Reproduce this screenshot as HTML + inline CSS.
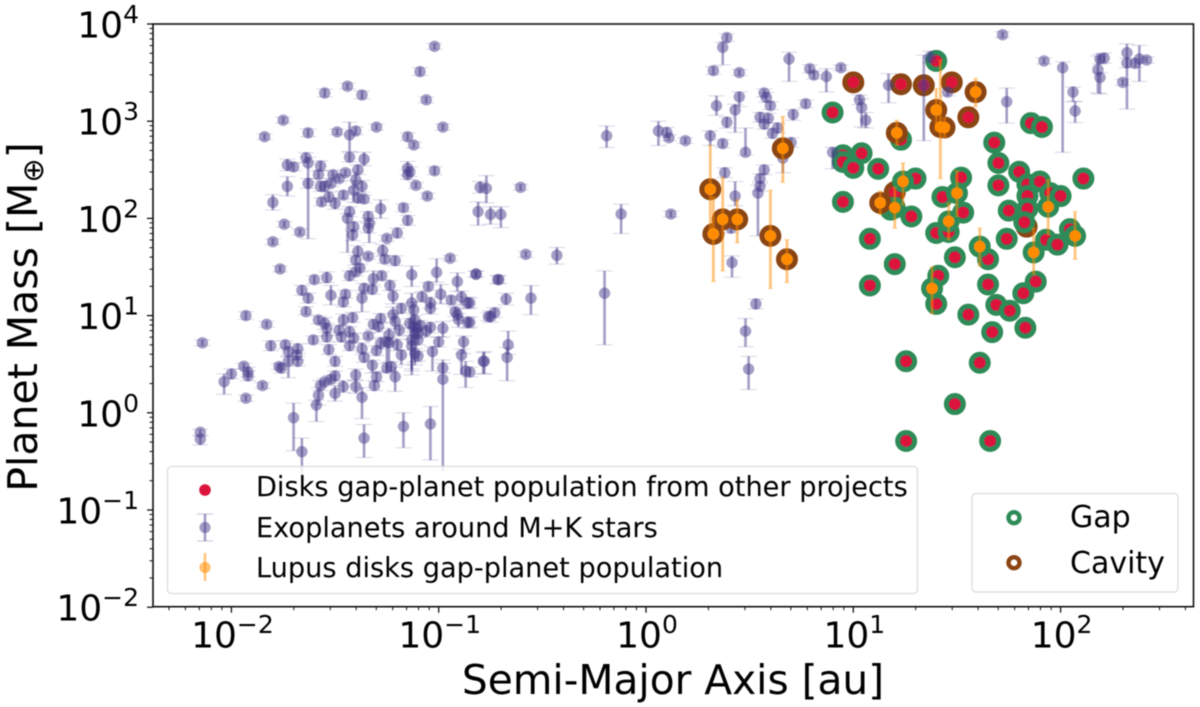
<!DOCTYPE html>
<html lang="en">
<head>
<meta charset="utf-8">
<title>Planet mass versus semi-major axis</title>
<style>
html,body{margin:0;padding:0;background:#fff;width:1200px;height:707px;overflow:hidden}
svg{display:block;filter:blur(0.55px)}
text{font-family:"DejaVu Sans","Liberation Sans",sans-serif;fill:#000}
</style>
</head>
<body>
<svg id="chart" xmlns="http://www.w3.org/2000/svg" width="1200" height="707" viewBox="0 0 1200 707">
  <defs><clipPath id="plot-clip"><rect x="153" y="24" width="1040.5" height="582.7"/></clipPath></defs>
  <rect x="153" y="24" width="1040.5" height="582.7" fill="#fff"/>
  <g id="marks" clip-path="url(#plot-clip)"></g>
  <rect x="153" y="24" width="1040.5" height="582.7" fill="none" stroke="#111" stroke-width="1.6"/>
  <g id="axes"></g>

  <text x="673" y="694" font-size="40.7" text-anchor="middle">Semi-Major Axis [au]</text>
  <text transform="translate(37,317) rotate(-90)" font-size="41" text-anchor="middle">Planet Mass [M<tspan font-size="29" dy="6">⊕</tspan><tspan dy="-6">]</tspan></text>

  <g>
    <rect x="167.5" y="466.5" width="750" height="127" rx="4" fill="#fff" fill-opacity="0.8" stroke="#dcdcdc" stroke-width="1.3"/>
    <circle cx="205" cy="490" r="5.8" fill="#DC143C"/>
    <text x="256" y="496" font-size="27.2">Disks gap-planet population from other projects</text>
    <g stroke="#483D8B" stroke-opacity="0.5">
      <line x1="205" x2="205" y1="514" y2="541" stroke-width="2.6"/>
      <line x1="197" x2="213" y1="514" y2="514" stroke-width="1" stroke-opacity="0.3"/>
      <line x1="197" x2="213" y1="541" y2="541" stroke-width="1" stroke-opacity="0.3"/>
      <circle cx="205" cy="527.5" r="5.6" fill="#483D8B" fill-opacity="0.5" stroke="none"/>
    </g>
    <text x="256" y="537" font-size="27.2">Exoplanets around M+K stars</text>
    <g stroke="#FF8C00" stroke-opacity="0.5">
      <line x1="205" x2="205" y1="553" y2="581" stroke-width="2.6"/>
      <circle cx="205" cy="567.5" r="5.6" fill="#FF8C00" fill-opacity="0.55" stroke="none"/>
    </g>
    <text x="256" y="577" font-size="27.2">Lupus disks gap-planet population</text>
  </g>

  <g>
    <rect x="972" y="493.5" width="206" height="98.5" rx="4" fill="#fff" fill-opacity="0.8" stroke="#dcdcdc" stroke-width="1.3"/>
    <circle cx="1014" cy="517.7" r="5.5" fill="#fff" stroke="#2E8B57" stroke-width="4.4"/>
    <text x="1070" y="527" font-size="30">Gap</text>
    <circle cx="1014" cy="562.7" r="5.5" fill="#fff" stroke="#8B4513" stroke-width="4.4"/>
    <text x="1070" y="573" font-size="30">Cavity</text>
  </g>
</svg>

<script>
// Tick exponents (base-10)
const xTickExponents = [-2, -1, 0, 1, 2];
const yTickExponents = [-2, -1, 0, 1, 2, 3, 4];

// Disks gap-planet population from other projects: log10(a/au), log10(M/Mearth), structure
const diskLogA = [
  1.00,1.23,1.34,1.475,1.555,1.20,1.836,
  1.40,1.23,1.12,0.90,0.95,0.95,1.04,1.00,0.95,1.08,
  1.08,1.18,1.28,1.30,1.43,1.52,1.53,1.40,1.46,1.65,
  1.49,1.20,1.74,1.68,1.857,1.91,1.70,1.70,1.80,1.84,
  1.90,1.84,1.95,2.00,1.75,1.84,1.825,2.11,2.045,1.93,
  1.985,1.41,1.65,1.88,1.82,1.40,1.555,1.69,1.755,1.67,
  1.83,1.255,1.61,1.49,1.255,1.66
];
const diskLogM = [
  3.40,3.38,3.37,3.40,3.04,2.27,1.915,
  3.62,2.81,2.51,3.09,2.65,2.58,2.67,2.52,2.17,1.79,
  1.31,2.09,2.02,2.41,2.22,2.42,2.06,1.85,1.86,1.58,
  1.60,1.53,1.79,2.78,2.98,2.94,2.57,2.34,2.48,2.35,
  2.38,2.23,2.26,2.23,2.08,2.10,1.96,2.41,1.89,1.78,
  1.73,1.41,1.32,1.35,1.23,1.12,1.01,1.11,1.05,0.83,
  0.875,0.53,0.515,0.09,-0.29,-0.29
];
const diskStructure = [
  "cavity","cavity","cavity","cavity","cavity","cavity","cavity",
  "gap","gap","gap","gap","gap","gap","gap","gap","gap","gap",
  "gap","gap","gap","gap","gap","gap","gap","gap","gap","gap",
  "gap","gap","gap","gap","gap","gap","gap","gap","gap","gap",
  "gap","gap","gap","gap","gap","gap","gap","gap","gap","gap",
  "gap","gap","gap","gap","gap","gap","gap","gap","gap","gap",
  "gap","gap","gap","gap","gap","gap"
];

// Lupus disks gap-planet population
const lupusLogA = [0.66,0.31,0.37,0.44,0.325,0.60,0.68,1.13,1.21,1.40,1.42,1.44,1.59,
                   1.24,1.20,1.50,1.46,1.61,1.87,1.94,2.07,1.38];
const lupusLogM = [2.72,2.30,1.99,1.99,1.84,1.82,1.58,2.16,2.88,3.115,2.94,2.935,3.30,
                   2.38,2.11,2.26,1.97,1.71,1.65,2.12,1.82,1.28];
const lupusErrDown = [0.35,0.45,0.53,0.24,0.49,0.54,0.24,0.12,0.13,0.21,0.53,0.10,0.15,
                      0.24,0.21,0.24,0.19,0.20,0.23,0.29,0.24,0.26];
const lupusErrUp = [0.33,0.45,0.43,0.20,0.38,0.47,0.20,0.12,0.13,0.22,0.69,0.10,0.14,
                    0.19,0.21,0.23,0.19,0.19,0.25,0.28,0.25,0.22];
const lupusStructure = ["cavity","cavity","cavity","cavity","cavity","cavity","cavity","cavity","cavity","cavity","cavity","cavity","cavity",
                        "gap","gap","gap","gap","gap","gap","gap","gap","gap"];

// Exoplanets around M+K stars
const exoLogA = [
 -1.02,-1.09,-1.06,-0.98,-1.44,-1.55,-1.37,-1.75,-1.84,-1.63,
 -1.49,-1.40,-1.43,-1.30,-1.15,-1.12,-1.64,-1.63,-1.73,-1.70,
 -1.57,-1.43,-1.36,-1.58,-1.51,-1.45,-1.39,-1.48,-1.15,-1.15,
 -1.14,-1.02,-1.63,-1.73,-1.57,-1.55,-1.52,-1.11,-1.055,-1.46,
 -1.40,-1.37,-1.41,-1.39,-1.36,-1.80,-1.565,-1.50,-1.53,-1.28,
 -1.17,-1.43,-1.15,-1.44,-1.745,-1.67,-1.80,-1.41,-1.415,-1.34,
 -1.335,-1.34,-1.20,-1.25,-1.39,-1.27,-0.945,-0.80,-0.77,-0.81,
 -0.75,-1.765,-1.34,-1.26,-1.21,-1.40,-1.38,-1.40,-1.43,-1.275,
 -1.315,-1.54,-1.60,-1.13,-1.01,-0.82,-0.91,-1.235,-1.05,-1.66,
 -1.36,-1.32,-1.45,-1.52,-1.63,-1.22,-1.08,-0.99,-0.94,-0.89,
 -0.86,-1.46,-1.37,-1.13,-1.04,-1.04,-1.18,-1.64,-1.12,-1.22,
 -0.92,-0.91,-1.93,-0.76,-1.415,-1.46,-1.58,-1.55,-1.115,-1.28,
 -1.21,-0.905,-0.86,-1.83,-1.315,-1.29,-1.54,-1.48,-1.43,-0.98,
 -1.04,-1.105,-1.115,-1.19,-1.24,-1.06,-1.54,-1.47,-1.41,-1.34,
 -2.14,-1.605,-1.00,-0.88,-1.28,-1.25,-1.20,-1.81,-1.74,-1.68,
 -1.43,-1.37,-1.53,-1.30,-1.13,-1.115,-1.03,-1.18,-1.10,-0.89,
 -1.725,-1.685,-1.68,-1.725,-1.36,-1.50,-1.32,-0.78,-1.94,-1.92,
 -1.92,-2.00,-2.035,-1.85,-1.77,-1.76,-1.25,-1.23,-0.98,-0.98,
 -0.87,-1.40,-1.50,-1.21,-1.30,-1.52,-1.55,-1.57,-1.31,-1.46,
 -1.40,-1.50,-1.58,-1.37,-1.59,-1.70,-1.36,-1.17,-1.04,-1.66,
 -1.93,-2.15,-2.15,-1.12,-1.10,-1.13,-1.10,-1.14,-1.24,-1.09,
 -0.605,-0.70,-0.58,-0.43,-0.82,-0.715,-0.71,-0.675,-0.555,-0.73,
 -0.75,-0.85,-0.85,-0.665,-0.67,-0.785,-0.85,-0.19,-0.12,0.12,
 -0.20,0.39,0.37,0.325,0.45,0.69,0.79,0.81,0.87,0.94,
 1.17,0.34,0.45,0.43,0.39,0.57,0.58,0.60,0.77,0.71,
 0.55,0.59,0.57,0.635,0.61,1.03,1.04,1.06,0.06,0.10,
 0.11,0.19,0.31,0.37,0.48,0.70,0.66,0.90,0.38,0.57,
 0.55,0.55,0.54,0.43,0.41,0.415,0.53,0.48,0.495,1.72,
 1.37,1.34,1.455,1.74,1.92,2.01,2.06,2.07,2.18,2.19,
 2.21,2.19,2.30,2.32,2.32,2.36,2.38,2.415
];
const exoLogM = [
 3.77,3.51,3.22,2.94,3.36,3.29,3.27,3.01,2.84,2.88,
 2.89,2.90,2.86,2.94,2.84,2.755,2.625,2.57,2.55,2.53,
 2.54,2.63,2.61,2.45,2.45,2.47,2.50,2.41,2.515,2.45,
 2.48,2.49,2.36,2.33,2.33,2.33,2.36,2.34,2.23,2.24,
 2.395,2.33,2.29,2.21,2.20,2.165,2.17,2.155,2.22,2.10,
 2.11,2.07,1.98,2.00,1.94,1.86,1.76,1.915,1.83,2.02,
 1.95,1.90,1.85,1.795,1.66,1.67,1.59,2.32,2.31,2.07,
 2.04,1.48,1.61,1.58,1.565,1.57,1.49,1.45,1.41,1.41,
 1.38,1.39,1.37,1.42,1.445,1.43,1.35,1.31,1.30,1.26,
 1.28,1.27,1.22,1.21,1.18,1.20,1.195,1.22,1.16,1.19,
 1.13,1.14,1.18,1.13,1.13,1.075,1.075,1.04,1.06,1.01,
 1.04,1.01,1.00,0.99,0.98,0.955,0.955,0.92,0.955,0.97,
 0.94,0.96,0.93,0.91,0.91,0.89,0.87,0.85,0.835,0.87,
 0.88,0.87,0.82,0.85,0.80,0.84,0.78,0.78,0.77,0.79,
 0.72,0.75,0.73,0.73,0.715,0.73,0.70,0.69,0.70,0.66,
 0.69,0.66,0.65,0.64,0.69,0.61,0.63,0.595,0.585,0.595,
 0.63,0.595,0.53,0.53,0.57,0.53,0.49,0.53,0.48,0.42,
 0.38,0.40,0.32,0.28,0.475,0.46,0.46,0.475,0.46,0.345,
 0.43,0.39,0.38,0.37,0.37,0.345,0.32,0.28,0.28,0.27,
 0.27,0.20,0.18,0.16,0.08,-0.05,-0.26,-0.14,-0.115,-0.40,
 0.15,-0.20,-0.27,0.88,0.82,0.75,0.75,0.92,0.72,0.90,
 2.32,2.04,1.63,1.62,1.425,1.37,1.37,1.17,1.18,1.03,
 0.99,1.13,0.93,0.70,0.57,0.53,0.42,2.85,2.045,2.045,
 1.23,3.86,3.76,3.52,3.50,3.64,3.54,3.475,3.46,3.55,
 3.37,3.16,3.25,3.115,2.99,3.29,3.245,3.16,3.18,3.07,
 3.04,3.03,2.97,2.93,2.875,3.22,3.14,3.01,2.90,2.885,
 2.83,2.80,2.85,2.77,2.68,2.78,2.62,2.68,2.47,2.50,
 2.41,2.33,2.26,2.23,1.90,1.545,1.12,0.84,0.45,3.89,
 3.66,3.37,3.30,3.20,3.62,3.55,3.30,3.105,3.53,3.64,
 3.65,3.45,3.40,3.705,3.60,3.595,3.64,3.63
];
const exoErrDown = [
 .03,.04,.03,.03,.03,.04,.04,.03,.03,.04,
 .03,.04,.17,.03,.04,.03,.05,.78,.06,.04,
 .05,.05,.07,.04,.04,.03,.05,.03,.07,.05,
 .05,.04,.05,.10,.05,.05,.03,.03,.03,.04,
 .08,.06,.12,.05,.04,.08,.04,.06,.05,.10,
 .04,.05,.05,.35,.03,.03,.03,.05,.06,.05,
 .20,.05,.05,.03,.06,.06,.03,.06,.15,.14,
 .10,.03,.03,.04,.05,.05,.04,.04,.05,.04,
 .08,.05,.04,.12,.10,.03,.10,.05,.04,.05,
 .05,.05,.04,.10,.05,.08,.05,.10,.04,.08,
 .06,.05,.14,.70,.06,.06,.05,.03,.30,.08,
 .05,.06,.04,.04,.05,.06,.04,.06,.10,.05,
 .08,.08,.06,.03,.05,.06,.08,.05,.05,.09,
 .06,.07,.30,.06,.07,.06,.05,.05,.05,.03,
 .03,.04,.05,.12,.06,.30,.06,.05,.04,.05,
 .05,.06,.05,.05,.30,.12,.20,.10,.05,.20,
 .05,.05,.05,.17,.05,.05,.08,.13,.03,.05,
 .05,.05,.13,.03,.03,.05,.05,.05,.05,.94,
 .17,.06,.05,.15,.05,.04,.03,.05,.05,.06,
 .07,.08,.10,.22,.17,.34,.20,.22,.37,.30,
 .03,.03,.06,.05,.05,.30,.05,.05,.20,.05,
 .03,.135,.03,.09,.03,.04,.04,.06,.17,.05,
 .06,.05,.05,.10,.24,.13,.05,.12,.20,.03,
 .53,.04,.18,.04,.03,.23,.04,.04,.16,.03,
 .18,.10,.10,.23,.06,.04,.05,.04,.04,.06,
 .05,.05,.05,.05,.05,.05,.20,.08,.15,.05,
 .03,.03,.10,.04,.03,.05,.15,.17,.05,.05,
 .05,.05,.44,.10,.05,.15,.05,.16,.21,.03,
 .06,.57,.04,.22,.03,.87,.10,.12,.24,.05,
 .05,.17,.03,.58,.05,.04,.23,.03
];
const exoErrUp = [
 .03,.04,.03,.03,.03,.04,.04,.03,.03,.04,
 .03,.04,.13,.03,.04,.03,.05,.06,.06,.04,
 .05,.05,.07,.04,.04,.03,.05,.03,.07,.05,
 .05,.04,.05,.10,.05,.05,.03,.03,.03,.04,
 .08,.06,.10,.05,.04,.08,.04,.06,.05,.09,
 .04,.05,.05,.05,.03,.03,.03,.05,.06,.05,
 .05,.05,.05,.03,.06,.06,.03,.06,.13,.10,
 .08,.03,.03,.04,.05,.05,.04,.04,.05,.04,
 .08,.06,.04,.09,.14,.03,.09,.05,.04,.05,
 .05,.05,.04,.10,.05,.06,.05,.10,.04,.06,
 .06,.05,.08,.10,.06,.06,.05,.05,.08,.08,
 .05,.06,.04,.04,.05,.06,.04,.06,.05,.05,
 .08,.06,.06,.03,.05,.05,.05,.05,.05,.07,
 .05,.06,.06,.06,.07,.06,.05,.05,.05,.03,
 .03,.04,.05,.06,.06,.05,.06,.05,.04,.05,
 .05,.06,.05,.05,.06,.05,.05,.05,.05,.06,
 .05,.05,.05,.05,.05,.05,.05,.10,.03,.05,
 .05,.05,.08,.03,.03,.05,.05,.05,.05,.20,
 .10,.06,.05,.10,.05,.04,.03,.05,.05,.06,
 .07,.08,.08,.10,.05,.15,.14,.14,.18,.14,
 .03,.03,.03,.05,.05,.05,.05,.05,.05,.05,
 .03,.08,.03,.08,.03,.04,.04,.06,.13,.05,
 .06,.05,.05,.14,.10,.09,.05,.10,.10,.03,
 .23,.04,.05,.04,.03,.07,.04,.04,.08,.03,
 .12,.10,.05,.06,.05,.04,.05,.04,.04,.05,
 .05,.05,.05,.05,.05,.05,.09,.08,.10,.05,
 .03,.03,.05,.04,.25,.05,.05,.05,.05,.05,
 .05,.05,.08,.15,.05,.07,.05,.13,.13,.03,
 .06,.31,.04,.14,.03,.06,.05,.10,.14,.05,
 .05,.05,.03,.09,.05,.04,.14,.03
];

// Axis functions: log10 value to pixel coordinate
function xAxis(logValue) { return 646 + 207.3 * logValue; }
function yAxis(logValue) { return 412.8 - 97.2 * logValue; }

const SVG_NS = 'http://www.w3.org/2000/svg';
const marks = document.getElementById('marks');
const axes = document.getElementById('axes');

function make(tag, parent, attrs) {
  const el = document.createElementNS(SVG_NS, tag);
  for (const k in attrs) el.setAttribute(k, attrs[k]);
  parent.appendChild(el);
  return el;
}

const RING_COLORS = { gap: '#2E8B57', cavity: '#8B4513' };

// ---- axes ----
const xRange = [-2.378, 2.64];
const yRange = [-2, 4];
for (let d = -3; d <= 2; d++) {
  for (let m = 1; m <= 9; m++) {
    const v = d + Math.log10(m);
    if (v < xRange[0] || v > xRange[1]) continue;
    const major = m === 1;
    const tick = make('line', axes, { x1: xAxis(v), x2: xAxis(v), y1: 606.7, y2: 606.7 + (major ? 6 : 3.5), stroke: '#111', 'stroke-width': major ? 1.3 : 1 });
    
    
  }
}
for (let d = -2; d <= 3; d++) {
  for (let m = 1; m <= 10; m++) {
    const v = d + Math.log10(m);
    if (v < yRange[0] || v > yRange[1] || (m === 10 && d !== 3)) continue;
    const major = m === 1 || m === 10;
    const tick = make('line', axes, { x1: 153, x2: 153 - (major ? 6 : 3.5), y1: yAxis(v), y2: yAxis(v), stroke: '#111', 'stroke-width': major ? 1.3 : 1 });
    
    
  }
}
function tickLabel(parent, x, y, anchor, exponent) {
  const t = make('text', parent, { x: x, y: y, 'text-anchor': anchor, 'font-size': 36 });
  const base = make('tspan', t, {});
  base.textContent = '10';
  const sup = make('tspan', t, { 'font-size': 25, dy: -14.5 });
  sup.textContent = String(exponent).replace('-', '\u2212');
  return t;
}
xTickExponents.forEach(function (e) {
  const label = tickLabel(axes, xAxis(e) + 1, 647.5, 'middle', e);
  
  
});
yTickExponents.forEach(function (e) {
  const label = tickLabel(axes, 139, yAxis(e) + 13.5, 'end', e);
  
  
});

// ---- disks from other projects (cavities beneath gaps) ----
['cavity', 'gap'].forEach(function (kind) {
  diskLogA.forEach(function (a, i) {
    if (diskStructure[i] !== kind) return;
    const g = make('g', marks, {});
    
    
    make('circle', g, { cx: xAxis(a), cy: yAxis(diskLogM[i]), r: 8.4, fill: 'none', stroke: RING_COLORS[kind], 'stroke-width': 5.2 });
    make('circle', g, { cx: xAxis(a), cy: yAxis(diskLogM[i]), r: 5.9, fill: '#DC143C' });
  });
});

// ---- exoplanets ----
exoLogA.forEach(function (a, i) {
  const g = make('g', marks, {});
  
  
  const x = xAxis(a);
  const y0 = yAxis(exoLogM[i]);
  const yLow = yAxis(exoLogM[i] - exoErrDown[i]);
  const yHigh = yAxis(exoLogM[i] + exoErrUp[i]);
  make('line', g, { x1: x, x2: x, y1: yLow, y2: yHigh, stroke: '#483D8B', 'stroke-opacity': 0.5, 'stroke-width': 2.6 });
  make('line', g, { x1: x - 8, x2: x + 8, y1: yLow, y2: yLow, stroke: '#483D8B', 'stroke-opacity': 0.22, 'stroke-width': 1 });
  make('line', g, { x1: x - 8, x2: x + 8, y1: yHigh, y2: yHigh, stroke: '#483D8B', 'stroke-opacity': 0.22, 'stroke-width': 1 });
  make('circle', g, { cx: x, cy: y0, r: 5.7, fill: '#483D8B', 'fill-opacity': 0.5 });
});

// ---- Lupus disks ----
['gap', 'cavity'].forEach(function (kind) {
  lupusLogA.forEach(function (a, i) {
    if (lupusStructure[i] !== kind) return;
    const ring = make('circle', marks, { cx: xAxis(a), cy: yAxis(lupusLogM[i]), r: 8.4, fill: 'none', stroke: RING_COLORS[kind], 'stroke-width': 5.2 });
    
    
  });
});
lupusLogA.forEach(function (a, i) {
  const g = make('g', marks, {});
  
  
  const x = xAxis(a);
  const yLow = yAxis(lupusLogM[i] - lupusErrDown[i]);
  const yHigh = yAxis(lupusLogM[i] + lupusErrUp[i]);
  make('line', g, { x1: x, x2: x, y1: yLow, y2: yHigh, stroke: '#FF8C00', 'stroke-opacity': 0.5, 'stroke-width': 2.8 });
  make('line', g, { x1: x - 2.6, x2: x + 2.6, y1: yLow, y2: yLow, stroke: '#FF8C00', 'stroke-opacity': 0.4, 'stroke-width': 1 });
  make('line', g, { x1: x - 2.6, x2: x + 2.6, y1: yHigh, y2: yHigh, stroke: '#FF8C00', 'stroke-opacity': 0.4, 'stroke-width': 1 });
  make('circle', g, { cx: x, cy: yAxis(lupusLogM[i]), r: 5.8, fill: '#FF8C00' });
});
</script>
</body>
</html>
